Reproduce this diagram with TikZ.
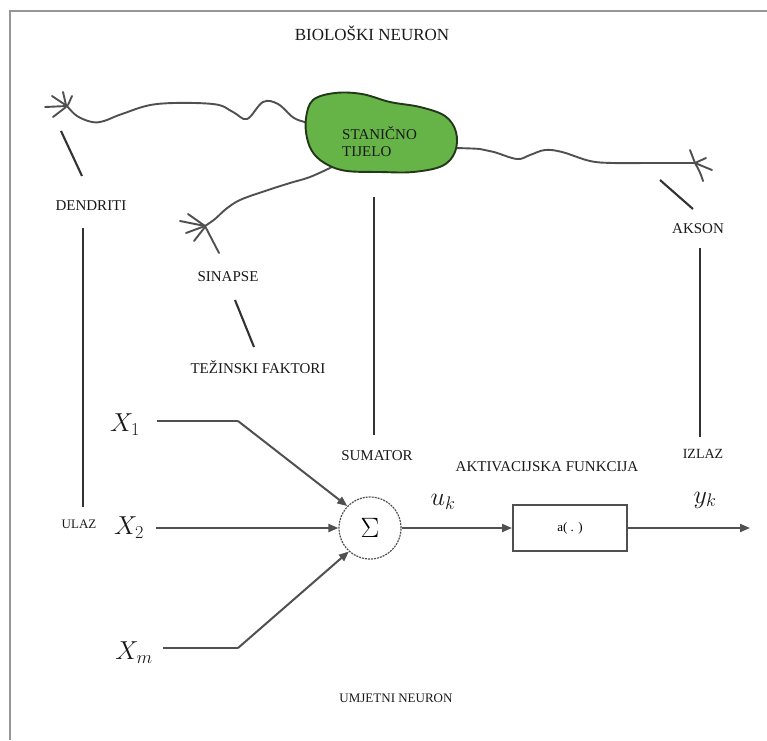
\RequirePackage{fix-cm}
\documentclass[tikz,border=0pt]{standalone}
\usepackage{fontspec}
\setmainfont{Liberation Serif}
\usepackage{amsmath}
\usetikzlibrary{arrows.meta}
\definecolor{cellgreen}{RGB}{102,180,72}
\definecolor{celledge}{RGB}{35,55,25}
\definecolor{nervegray}{RGB}{80,80,80}
\definecolor{guidedark}{RGB}{50,50,50}
\definecolor{signalgray}{RGB}{80,80,80}
\definecolor{framegray}{RGB}{150,150,150}
\definecolor{labelblack}{RGB}{25,25,25}

\tikzset{
	lbl/.style={font=\fontsize{15}{17}\selectfont, text=labelblack, inner sep=0pt},
	smalllbl/.style={font=\fontsize{13}{15}\selectfont, text=labelblack, inner sep=0pt},
	sym/.style={font=\fontsize{26}{29}\selectfont, text=labelblack, inner sep=0pt},
	nerve/.style={draw=nervegray, line width=1.9pt, line cap=round, line join=round},
	guide/.style={draw=guidedark, line width=2.1pt},
	signal/.style={draw=signalgray, line width=2pt, -{Triangle[length=10pt,width=8pt]}},
	signalline/.style={draw=signalgray, line width=2pt}
}

\begin{document}
\begin{tikzpicture}[x=1pt,y=-1pt]
	\useasboundingbox (0,0) rectangle (767,740);
	% frame
	\draw[framegray, line width=2pt] (767,11) -- (10,11) -- (10,740);

	% biological neuron
	\node[lbl, font=\fontsize{17}{19}\selectfont] (title) at (372,33) {BIOLOŠKI NEURON};
	\draw[nerve] plot[smooth, tension=0.6] coordinates {(67,106) (77,116) (92,122) (104,121) (122,114) (157,104) (213,104) (233,112) (247,119) (263,102) (278,104) (294,118) (309,123)};
	\draw[nerve] (67,106) -- (45,107);
	\draw[nerve] (67,106) -- (52,96);
	\draw[nerve] (66,105) -- (63,92);
	\draw[nerve] (68,105) -- (72,96);
	\draw[nerve] (66,107) -- (53,117);
	\draw[nerve] plot[smooth, tension=0.6] coordinates {(332,167) (310,177) (290,183) (265,191) (240,200) (226,209) (215,219) (205,226)};
	\draw[nerve] (205,226) -- (180,221);
	\draw[nerve] (205,226) -- (188,214);
	\draw[nerve] (205,226) -- (186,233);
	\draw[nerve] (205,227) -- (194,241);
	\draw[nerve] (205,226) -- (219,253);
	\draw[nerve] plot[smooth, tension=0.6] coordinates {(454,148) (480,149) (494,152) (517,159) (530,155) (545,150) (562,152) (590,161) (613,163) (650,163) (695,163)};
	\draw[nerve] (695,163) .. controls (693,156) .. (690,150);
	\draw[nerve] (695,163) -- (706,158);
	\draw[nerve] (695,163) .. controls (704,166) .. (712,170);
	\draw[nerve] (695,163) .. controls (700,172) .. (703,181);
	\draw[celledge, fill=cellgreen, line width=1.9pt] plot[smooth cycle, tension=0.6] coordinates {(313,100) (335,93) (362,94) (390,102) (420,107) (445,116) (456,132) (455,152) (442,166) (413,172) (380,172) (347,171) (328,165) (314,154) (307,138) (306,118)};
	\node[lbl, align=left, anchor=west] (soma) at (342,142) {STANIČNO\\TIJELO};

	\node[lbl] (dendriti) at (91,206) {DENDRITI};
	\node[lbl] (sinapse) at (228,277) {SINAPSE};
	\node[lbl] (tezinski) at (258,367) {TEŽINSKI FAKTORI};
	\node[lbl] (akson) at (698,229) {AKSON};

	% leader lines
	\coordinate (dpt1) at (61,131);
	\coordinate (dpt2) at (82,176);
	\coordinate (spt1) at (235,300);
	\coordinate (spt2) at (254,347);
	\coordinate (apt1) at (660,180);
	\coordinate (apt2) at (693,209);
	\draw[guide] (dpt1) -- (dpt2);
	\draw[guide] (spt1) -- (spt2);
	\draw[guide] (apt1) -- (apt2);

	% artificial neuron
	\node[lbl] (sumator) at (377,456) {SUMATOR};
	\node[lbl, font=\fontsize{14}{16}\selectfont] (izlaz) at (703,454) {IZLAZ};
	\node[lbl] (aktiv) at (547,467) {AKTIVACIJSKA FUNKCIJA};
	\node[smalllbl] (ulaz) at (79,524) {ULAZ};
	\node[smalllbl] (umjetni) at (396,698) {UMJETNI NEURON};

	\coordinate (ltop) at (83,228);
	\coordinate (lbot) at (83,507);
	\coordinate (stop) at (374,197);
	\coordinate (sbot) at (374,435);
	\coordinate (itop) at (700,248);
	\coordinate (ibot) at (700,437);
	\draw[guide] (ltop) -- (lbot);
	\draw[guide] (stop) -- (sbot);
	\draw[guide] (itop) -- (ibot);

	\node[sym] (x1) at (125,425) {$X_1$};
	\node[sym] (x2) at (129,528) {$X_2$};
	\node[sym] (xm) at (134,653) {$X_m$};
	\node[circle, draw=signalgray, dash pattern=on 2pt off 1pt, line width=1.2pt, minimum size=62pt, inner sep=0pt, font=\fontsize{28}{30}\selectfont] (sum) at (370,528) {$\Sigma$};
	\node[draw=signalgray, line width=2pt, minimum width=114pt, minimum height=46pt, inner sep=0pt, font=\fontsize{13}{15}\selectfont] (act) at (570,528) {a( . )};
	\node[sym] (uk) at (443,502) {$u_k$};
	\node[sym] (yk) at (705,500) {$y_k$};
	\coordinate (b1) at (238,421);
	\coordinate (bm) at (238,648);
	\coordinate (out) at (750,528);

	\draw[signalline, shorten <=17pt] (x1.east |- b1) -- (b1);
	\draw[signal] (b1) -- (sum.136);
	\draw[signal, shorten <=12pt] (x2.east |- sum.west) -- (sum.west);
	\draw[signalline, shorten <=10pt] (xm.east |- bm) -- (bm);
	\draw[signal] (bm) -- (sum.228);
	\draw[signal] (sum.east) -- (act.west);
	\draw[signal] (act.east) -- (out);
\end{tikzpicture}
\end{document}
